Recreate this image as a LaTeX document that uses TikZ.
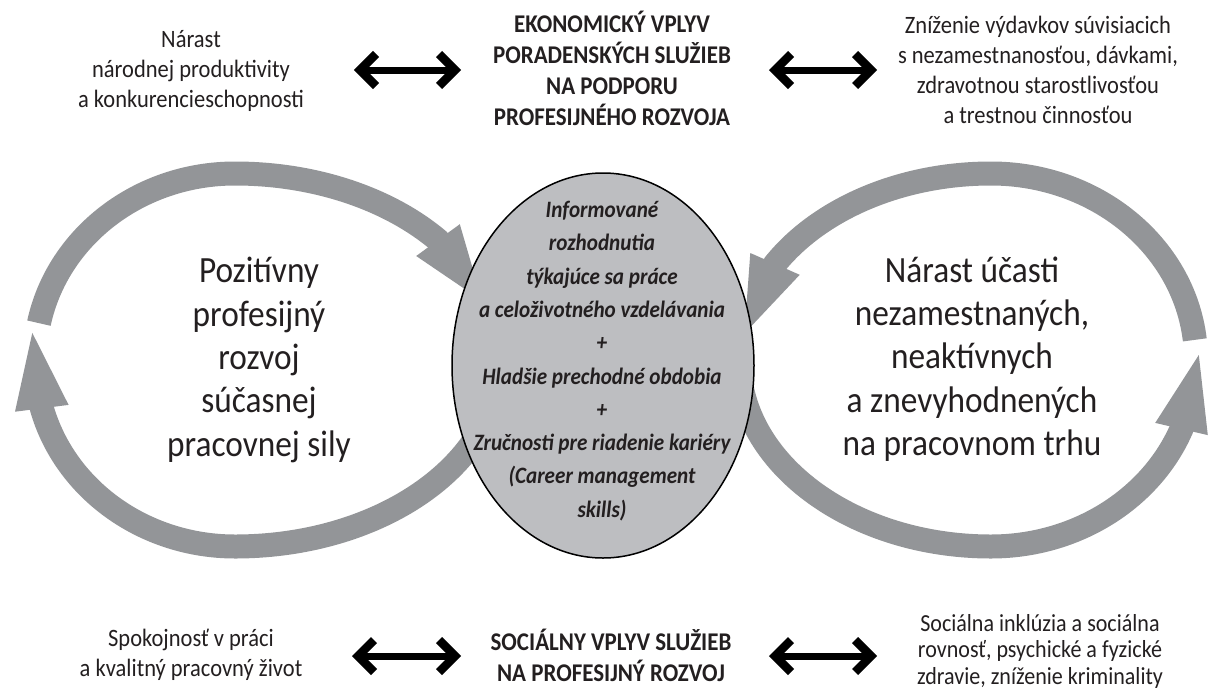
\documentclass[tikz,border=0pt]{standalone}
\usepackage{fontspec}
\setmainfont{Carlito}[FakeStretch=0.9]
\definecolor{ringgray}{RGB}{147,149,152}
\definecolor{corefill}{RGB}{189,190,193}
\definecolor{ink}{RGB}{35,31,32}
% two-headed arrow with chevron heads between two named points
\newcommand\twowayarrow[2]{%
  \draw[shaft] (#1) -- (#2);
  \draw[chevron] ([shift={(16,-16)}]#1) -- (#1) -- ([shift={(16,16)}]#1);
  \draw[chevron] ([shift={(-16,-16)}]#2) -- (#2) -- ([shift={(-16,16)}]#2);}
\begin{document}
\begin{tikzpicture}[x=1pt, y=-1pt,
  every node/.style={text=ink, inner sep=0pt, align=center},
  band/.style={draw=ringgray, line width=24pt, line cap=butt, line join=miter},
  bandhead/.style={fill=ringgray, draw=none},
  coreshape/.style={fill=corefill, draw=black, line width=1.5pt},
  bigtext/.style={font=\fontsize{37}{43.3}\selectfont},
  smalltext/.style={font=\fontsize{25}{29.8}\selectfont},
  tighttext/.style={font=\fontsize{24.5}{26.5}\selectfont},
  headtext/.style={font=\bfseries\fontsize{25.5}{31}\selectfont},
  coretext/.style={font=\bfseries\itshape\fontsize{23.5}{33.3}\selectfont},
  shaft/.style={draw=black, line width=7pt},
  chevron/.style={draw=black, line width=8.5pt, line join=miter, line cap=butt}]
\useasboundingbox (0,0) rectangle (1210,691);

% left cycle (clockwise)
\draw[band] ([shift={(235,360)}]-168.6:200 and 186.5)
  arc[start angle=-168.6, end angle=-90, x radius=200, y radius=186.5]
  arc[start angle=-90, end angle=-40, x radius=265, y radius=186.5] -- ++(3.5,4.9);
\fill[bandhead] (459.8,224.2) -- (482.1,300.8) -- (416.2,256.0) -- cycle;
\draw[band] ([shift={(235,360)}]10:265 and 186.5)
  arc[start angle=10, end angle=90, x radius=265, y radius=186.5]
  arc[start angle=90, end angle=165, x radius=200, y radius=186.5] -- ++(-0.75,-5.95);
\fill[bandhead] (68.6,404.9) -- (32.3,332.9) -- (15.0,411.7) -- cycle;

% right cycle (counter-clockwise)
\draw[band] ([shift={(991,360)}]-6.2:205 and 186.5)
  arc[start angle=-6.2, end angle=-90, x radius=205, y radius=186.5]
  arc[start angle=-90, end angle=-149, x radius=252, y radius=186.5] -- ++(-2.4,5.5);
\fill[bandhead] (799.7,274.8) -- (744.4,333.5) -- (750.3,253.0) -- cycle;
\draw[band] ([shift={(991,360)}]178:252 and 186.5)
  arc[start angle=178, end angle=90, x radius=252, y radius=186.5]
  arc[start angle=90, end angle=21.7, x radius=205, y radius=186.5] -- ++(1.4,-5.8);
\fill[bandhead] (1207.8,435.1) -- (1198.8,355.0) -- (1155.2,422.9) -- cycle;

% central oval
\draw[coreshape] (603,365.5) ellipse [x radius=151, y radius=192.5];
\node[coretext] (core) at (602,361) {Informované\\rozhodnutia\\týkajúce sa práce\\a celoživotného vzdelávania\\+\\Hladšie prechodné obdobia\\+\\Zručnosti pre riadenie kariéry\\(Career management\\skills)};

% texts inside the cycles
\node[bigtext] (posdev) at (259,360) {Pozitívny\\profesijný\\rozvoj\\súčasnej\\pracovnej sily};
\node[bigtext] (growth) at (972,359) {Nárast účasti\\nezamestnaných,\\neaktívnych\\a znevyhodnených\\na pracovnom trhu};

% economic row
\node[smalltext] (prod) at (191,71) {Nárast\\národnej produktivity\\a konkurencieschopnosti};
\node[headtext] (econ) at (612,68) {EKONOMICKÝ VPLYV\\PORADENSKÝCH SLUŽIEB\\NA PODPORU\\PROFESIJNÉHO ROZVOJA};
\node[smalltext] (costs) at (1038,70) {Zníženie výdavkov súvisiacich\\s nezamestnanosťou, dávkami,\\zdravotnou starostlivosťou\\a trestnou činnosťou};

% social row
\node[smalltext] (satis) at (191,655) {Spokojnosť v práci\\a kvalitný pracovný život};
\node[headtext] (social) at (611,655) {SOCIÁLNY VPLYV SLUŽIEB\\NA PROFESIJNÝ ROZVOJ};
\node[tighttext] (incl) at (1040,651) {Sociálna inklúzia a sociálna\\rovnosť, psychické a fyzické\\zdravie, zníženie kriminality};

% two-way arrows between the rows' texts
\coordinate (al1) at (360,70);  \coordinate (al2) at (455,70);
\coordinate (ar1) at (775,70);  \coordinate (ar2) at (871,70);
\coordinate (bl1) at (358,656); \coordinate (bl2) at (455,656);
\coordinate (br1) at (775,656); \coordinate (br2) at (871,656);
\twowayarrow{al1}{al2}
\twowayarrow{ar1}{ar2}
\twowayarrow{bl1}{bl2}
\twowayarrow{br1}{br2}
\end{tikzpicture}
\end{document}
